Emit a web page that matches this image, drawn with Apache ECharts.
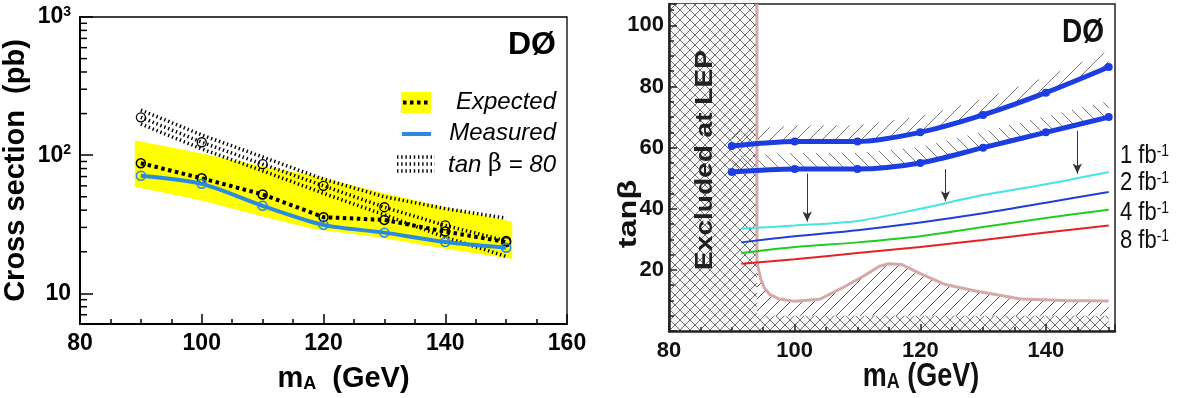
<!DOCTYPE html>
<html>
<head>
<meta charset="utf-8">
<script src="https://cdn.jsdelivr.net/npm/echarts@6/dist/echarts.min.js"></script>
<style>
  html, body { margin: 0; padding: 0; background: #fff; }
  #main { width: 1183px; height: 398px; }
</style>
</head>
<body>
<div id="main"></div>
<script>
// left panel: cross section limit (pb) vs m_A (GeV), log scale
var massL = [90, 100, 110, 120, 130, 140, 150];
var expected = [87.5, 68, 52, 35.6, 34, 28, 23.5];
var measured = [71, 62, 43, 31.3, 27.5, 23.5, 21.4];
var tb80 = [188, 124, 86, 60, 42, 31, 24];
var tb80Hi = [212, 140, 97, 67, 50, 41, 35];
var tb80Lo = [168, 111, 77, 53, 37, 25.5, 18.5];
var bandX = [89, 100, 110, 118, 130, 140, 151];
var bandHi = [128, 103, 83, 72, 53, 42, 33];
var bandLo = [59, 47, 36, 29.5, 25, 21, 17.7];
var minorLog = [7, 8, 9, 20, 30, 40, 50, 60, 70, 80, 90, 200, 300, 400, 500, 600, 700, 800, 900];

// right panel: tan(beta) reach vs m_A
var massR = [90, 100, 110, 120, 130, 140, 150];
var excl1 = [60.5, 62, 62, 65, 70.7, 78, 86.4];
var excl2 = [52, 53, 53, 55, 60, 65, 70];
var lumiX = [91.5, 100, 110, 120, 130, 140, 150];
var lumi1 = [33.5, 34.5, 36, 40, 44.5, 48, 52];
var lumi2 = [29, 31, 33, 35.5, 38.5, 42, 45.5];
var lumi4 = [25.5, 27.5, 29, 31, 34, 37, 39.7];
var lumi8 = [22, 23.5, 25.5, 27.5, 29.8, 32.2, 34.5];
var lumiNames = ['1', '2', '4', '8'];
var lepX = [94, 94, 94.6, 95.2, 96, 97.5, 100, 104, 107.5, 111, 113.5, 115, 117, 120, 124, 129, 136, 143, 150];
var lepY = [107, 22.5, 17, 14, 12, 10.5, 9.7, 10.4, 14, 18, 21.2, 22, 21.8, 18.8, 15.2, 13, 10.5, 10, 9.8];
var lepEdge = 94;
var floorTop = 5;
var arrowX = [102, 124, 145];
var arrowFrom = [51.5, 53, 65.5];
var arrowTo = [35.8, 42.5, 51.5];

var F = 'Liberation Sans, Arial, Helvetica, sans-serif';

function hatch(size, bg, color, dirs) {
  var c = document.createElement('canvas');
  c.width = c.height = size;
  var g = c.getContext('2d');
  if (bg) { g.fillStyle = bg; g.fillRect(0, 0, size, size); }
  g.strokeStyle = color;
  g.lineWidth = 1;
  dirs.forEach(function (d) {
    for (var k = -1; k <= 1; k++) {
      g.beginPath();
      if (d > 0) { g.moveTo(k * size, size); g.lineTo(k * size + size, 0); }
      else { g.moveTo(k * size, 0); g.lineTo(k * size + size, size); }
      g.stroke();
    }
  });
  return { image: c, repeat: 'repeat' };
}
var crossFill = hatch(10, '#f7f7f7', '#707070', [1, -1]);
var diagFill = hatch(12, null, '#555', [1]);
var tickUp = hatch(13, null, '#777', [1]);
var tickDown = hatch(13, null, '#777', [-1]);

// a polygon drawn through the axes of a grid
function poly(idx, build, fill, z) {
  return {
    type: 'custom', xAxisIndex: idx, yAxisIndex: idx, z: z || 1, clip: true, silent: true,
    data: [[idx ? 100 : 120, 50]],
    renderItem: function (params, api) {
      return { type: 'polygon', shape: { points: build(api) }, style: { fill: fill } };
    }
  };
}
function pts(api, xs, ys) {
  return xs.map(function (x, i) { return api.coord([x, ys[i]]); });
}
function lineBand(xs, ys, up) {
  return function (api) {
    var p = pts(api, xs, ys);
    var q = p.map(function (a) { return [a[0], a[1] - up]; }).reverse();
    return p.concat(q);
  };
}
function tbLine(vals, withSymbol) {
  return {
    type: 'line', xAxisIndex: 0, yAxisIndex: 0, z: 3,
    symbol: withSymbol ? 'circle' : 'none', symbolSize: 9,
    data: massL.map(function (m, i) { return [m, vals[i]]; }),
    lineStyle: { color: '#000', width: 3.5, type: [1.4, 2.8], cap: 'butt' },
    itemStyle: { color: 'rgba(0,0,0,0)', borderColor: '#000', borderWidth: 1.3 }
  };
}

var axisFont = { color: '#000', fontFamily: F, fontWeight: 'bold' };

var option = {
  animation: false,
  backgroundColor: '#fff',
  grid: [
    { left: 79, top: 17, width: 488, height: 308, show: true, borderColor: '#000', borderWidth: 1.3, backgroundColor: 'transparent' },
    { left: 669, top: 4, width: 446, height: 327, show: true, borderColor: '#222', borderWidth: 1.5, backgroundColor: 'transparent' }
  ],
  xAxis: [
    {
      type: 'value', gridIndex: 0, min: 80, max: 160, interval: 20, z: 10,
      axisLine: { onZero: false, lineStyle: { color: '#000', width: 2 } },
      axisTick: { inside: true, length: 10, lineStyle: { color: '#000', width: 1.5 } },
      minorTick: { show: true, splitNumber: 4, length: 5, lineStyle: { color: '#000', width: 1.5 } },
      splitLine: { show: false },
      axisLabel: Object.assign({ fontSize: 23, margin: 8 }, axisFont),
      name: '{m|m}{s|A}{m|  (GeV)}', nameLocation: 'middle', nameGap: 40,
      nameTextStyle: {
        padding: [0, 0, 0, 40],
        rich: {
          m: { fontFamily: F, fontWeight: 'bold', fontSize: 29, color: '#000' },
          s: { fontFamily: F, fontWeight: 'bold', fontSize: 18, color: '#000', verticalAlign: 'bottom', lineHeight: 18 }
        }
      }
    },
    {
      type: 'value', gridIndex: 1, min: 80, max: 151, interval: 20, z: 10,
      axisLine: { onZero: false, lineStyle: { color: '#222', width: 2.5 } },
      axisTick: { inside: true, length: 7, lineStyle: { color: '#222', width: 1.5 } },
      minorTick: { show: true, splitNumber: 4, length: 4, lineStyle: { color: '#222', width: 1.5 } },
      splitLine: { show: false },
      axisLabel: Object.assign({ fontSize: 22, margin: 9, showMaxLabel: false,
        formatter: function (v) { return v % 20 === 0 ? String(v) : ''; } }, axisFont, { color: '#111' })
    }
  ],
  yAxis: [
    {
      type: 'log', gridIndex: 0, min: 6, max: 1000, logBase: 10, z: 10,
      axisLine: { show: true, onZero: false, lineStyle: { color: '#000', width: 2 } },
      axisTick: { inside: true, length: 13, lineStyle: { color: '#000', width: 1.5 } },
      splitLine: { show: false },
      axisLabel: {
        margin: 9,
        formatter: function (v) {
          var l = Math.log10(v), e = Math.round(l);
          if (Math.abs(l - e) > 1e-6) return '';
          return e === 1 ? '{b|10}' : '{b|10}{s|' + e + '}';
        },
        rich: {
          b: { fontFamily: F, fontWeight: 'bold', fontSize: 23, color: '#000', lineHeight: 24 },
          s: { fontFamily: F, fontWeight: 'bold', fontSize: 14, color: '#000', verticalAlign: 'top', lineHeight: 14 }
        }
      },
      name: 'Cross section  (pb)', nameLocation: 'middle', nameGap: 50, nameRotate: 90,
      nameTextStyle: { fontFamily: F, fontWeight: 'bold', fontSize: 29, color: '#000' }
    },
    {
      type: 'value', gridIndex: 1, min: 0, max: 107, interval: 20, z: 10,
      axisLine: { show: true, onZero: false, lineStyle: { color: '#222', width: 2.5 } },
      axisTick: { inside: true, length: 8, lineStyle: { color: '#222', width: 1.5 } },
      minorTick: { show: true, splitNumber: 4, length: 5, lineStyle: { color: '#222', width: 1.5 } },
      splitLine: { show: false },
      axisLabel: Object.assign({ fontSize: 22, margin: 5, showMinLabel: false, showMaxLabel: false,
        formatter: function (v) { return v % 20 === 0 && v > 0 ? String(v) : ''; } }, axisFont, { color: '#111' })
    }
  ],
  series: [
    // ---- left panel
    poly(0, function (api) {
      return pts(api, bandX, bandHi).concat(pts(api, bandX, bandLo).reverse());
    }, '#ffff00', 1),
    tbLine(tb80Hi, false),
    tbLine(tb80Lo, false),
    tbLine(tb80, true),
    {
      type: 'line', xAxisIndex: 0, yAxisIndex: 0, z: 4, symbol: 'circle', symbolSize: 9,
      data: massL.map(function (m, i) { return [m, expected[i]]; }),
      lineStyle: { color: '#000', width: 4, type: [3.5, 3.5], cap: 'butt' },
      itemStyle: { color: 'rgba(0,0,0,0)', borderColor: '#000', borderWidth: 1.5 }
    },
    {
      type: 'line', xAxisIndex: 0, yAxisIndex: 0, z: 5, symbol: 'circle', symbolSize: 9, smooth: 0.3,
      data: massL.map(function (m, i) { return [m, measured[i]]; }),
      lineStyle: { color: '#2a8ae0', width: 4 },
      itemStyle: { color: 'rgba(0,0,0,0)', borderColor: '#2a8ae0', borderWidth: 1.5 }
    },
    {
      type: 'custom', xAxisIndex: 0, yAxisIndex: 0, z: 11, silent: true, clip: false,
      data: minorLog.map(function (v) { return [80, v]; }),
      renderItem: function (params, api) {
        var p = api.coord([80, api.value(1)]);
        return { type: 'line', shape: { x1: p[0], y1: p[1], x2: p[0] + 7, y2: p[1] },
          style: { stroke: '#000', lineWidth: 1.5 } };
      }
    },
    // ---- right panel
    poly(1, function (api) {
      return pts(api, lepX, lepY).concat([api.coord([150, 0]), api.coord([lepEdge, 0])]);
    }, diagFill, 1),
    poly(1, function (api) {
      return pts(api, [80, lepEdge, lepEdge, 80], [0, 0, 107, 107]);
    }, crossFill, 1),
    poly(1, function (api) {
      return pts(api, [lepEdge, 150, 150, lepEdge], [0, 0, floorTop, floorTop]);
    }, crossFill, 1),
    poly(1, lineBand(massR, excl1, 16), tickUp, 2),
    poly(1, lineBand(massR, excl2, 16), tickDown, 2),
    {
      type: 'line', xAxisIndex: 1, yAxisIndex: 1, z: 3, symbol: 'none',
      data: lepX.map(function (x, i) { return [x, lepY[i]]; }),
      lineStyle: { color: '#d6a9a9', width: 3 }
    },
    {
      type: 'line', xAxisIndex: 1, yAxisIndex: 1, z: 4, symbol: 'none', smooth: 0.3,
      data: lumiX.map(function (x, i) { return [x, lumi8[i]]; }),
      lineStyle: { color: '#e52222', width: 2 }
    },
    {
      type: 'line', xAxisIndex: 1, yAxisIndex: 1, z: 4, symbol: 'none', smooth: 0.3,
      data: lumiX.map(function (x, i) { return [x, lumi4[i]]; }),
      lineStyle: { color: '#22cc22', width: 2 }
    },
    {
      type: 'line', xAxisIndex: 1, yAxisIndex: 1, z: 4, symbol: 'none', smooth: 0.3,
      data: lumiX.map(function (x, i) { return [x, lumi2[i]]; }),
      lineStyle: { color: '#1f3fd8', width: 2 }
    },
    {
      type: 'line', xAxisIndex: 1, yAxisIndex: 1, z: 4, symbol: 'none', smooth: 0.3,
      data: lumiX.map(function (x, i) { return [x, lumi1[i]]; }),
      lineStyle: { color: '#44e4e4', width: 2 },
      markLine: {
        silent: true, symbol: ['none', 'arrow'], symbolSize: [7, 10], label: { show: false },
        lineStyle: { color: '#333', width: 1, type: 'solid' },
        data: arrowX.map(function (x, i) { return [{ coord: [x, arrowFrom[i]] }, { coord: [x, arrowTo[i]] }]; })
      }
    },
    {
      type: 'line', xAxisIndex: 1, yAxisIndex: 1, z: 5, symbol: 'circle', symbolSize: 8, smooth: 0.3,
      data: massR.map(function (m, i) { return [m, excl1[i]]; }),
      lineStyle: { color: '#1c3ee0', width: 5 }, itemStyle: { color: '#1c3ee0' }
    },
    {
      type: 'line', xAxisIndex: 1, yAxisIndex: 1, z: 5, symbol: 'circle', symbolSize: 8, smooth: 0.3,
      data: massR.map(function (m, i) { return [m, excl2[i]]; }),
      lineStyle: { color: '#1c3ee0', width: 5 }, itemStyle: { color: '#1c3ee0' }
    }
  ],
  graphic: [
    // left panel texts and legend
    { type: 'text', x: 556, y: 45, z: 20, style: { text: 'DØ', font: 'bold 32px ' + F, fill: '#000', align: 'right', verticalAlign: 'middle' } },
    { type: 'rect', z: 20, shape: { x: 401, y: 92, width: 30, height: 21 }, style: { fill: '#ffff00' } },
    { type: 'line', z: 21, shape: { x1: 403, y1: 102.5, x2: 431, y2: 102.5 }, style: { stroke: '#000', lineWidth: 4, lineDash: [3.5, 3.5] } },
    { type: 'line', z: 21, shape: { x1: 402, y1: 134, x2: 431, y2: 134 }, style: { stroke: '#2a8ae0', lineWidth: 4 } },
    { type: 'line', z: 21, shape: { x1: 397, y1: 157, x2: 435, y2: 157 }, style: { stroke: '#000', lineWidth: 3.5, lineDash: [1.4, 2.8] } },
    { type: 'line', z: 21, shape: { x1: 397, y1: 164, x2: 435, y2: 164 }, style: { stroke: '#000', lineWidth: 3.5, lineDash: [1.4, 2.8] } },
    { type: 'line', z: 21, shape: { x1: 397, y1: 171, x2: 435, y2: 171 }, style: { stroke: '#000', lineWidth: 3.5, lineDash: [1.4, 2.8] } },
    { type: 'text', x: 556, y: 102, z: 20, style: { text: 'Expected', font: 'italic 24px ' + F, fill: '#000', align: 'right', verticalAlign: 'middle' } },
    { type: 'text', x: 556, y: 133, z: 20, style: { text: 'Measured', font: 'italic 24px ' + F, fill: '#000', align: 'right', verticalAlign: 'middle' } },
    { type: 'text', x: 556, y: 165, z: 20, style: {
        text: '{i|tan }{b|β}{i| = 80}', align: 'right', verticalAlign: 'middle',
        rich: { i: { font: 'italic 24px ' + F, fill: '#000' }, b: { font: '24px DejaVu Serif, serif', fill: '#000' } } } },
    // right panel texts
    { type: 'text', x: 1104, y: 33, z: 20, scaleY: 1.2, style: { text: 'DØ', font: 'bold 28px ' + F, fill: '#111', align: 'right', verticalAlign: 'middle' } },
    { type: 'text', x: 706, y: 160, z: 20, rotation: Math.PI / 2, scaleX: 1.22, style: { text: 'Excluded at LEP', font: 'bold 23px ' + F, fill: '#222', align: 'center', verticalAlign: 'middle' } },
    { type: 'text', x: 629, y: 214, z: 20, rotation: Math.PI / 2, scaleX: 1.25, style: { text: 'tanβ', font: 'bold 26px ' + F, fill: '#111', align: 'center', verticalAlign: 'middle' } },
    { type: 'text', x: 921, y: 377, z: 20, scaleY: 1.2, style: {
        text: '{m|m}{s|A}{m| (GeV)}', align: 'center', verticalAlign: 'middle',
        rich: { m: { font: 'bold 27px ' + F, fill: '#111' }, s: { font: 'bold 18px ' + F, fill: '#111', verticalAlign: 'bottom', lineHeight: 14 } } } }
  ].concat(lumiNames.map(function (n, i) {
    return { type: 'text', x: 1120, y: [156, 183, 213, 241][i], z: 20, scaleY: 1.15, style: {
      text: '{n|' + n + ' fb}{s|-1}', verticalAlign: 'middle',
      rich: { n: { font: '22px ' + F, fill: '#111' }, s: { font: '14px ' + F, fill: '#111', verticalAlign: 'top', lineHeight: 12 } } } };
  }))
};

var chart = echarts.init(document.getElementById('main'));
chart.setOption(option);
</script>
</body>
</html>
